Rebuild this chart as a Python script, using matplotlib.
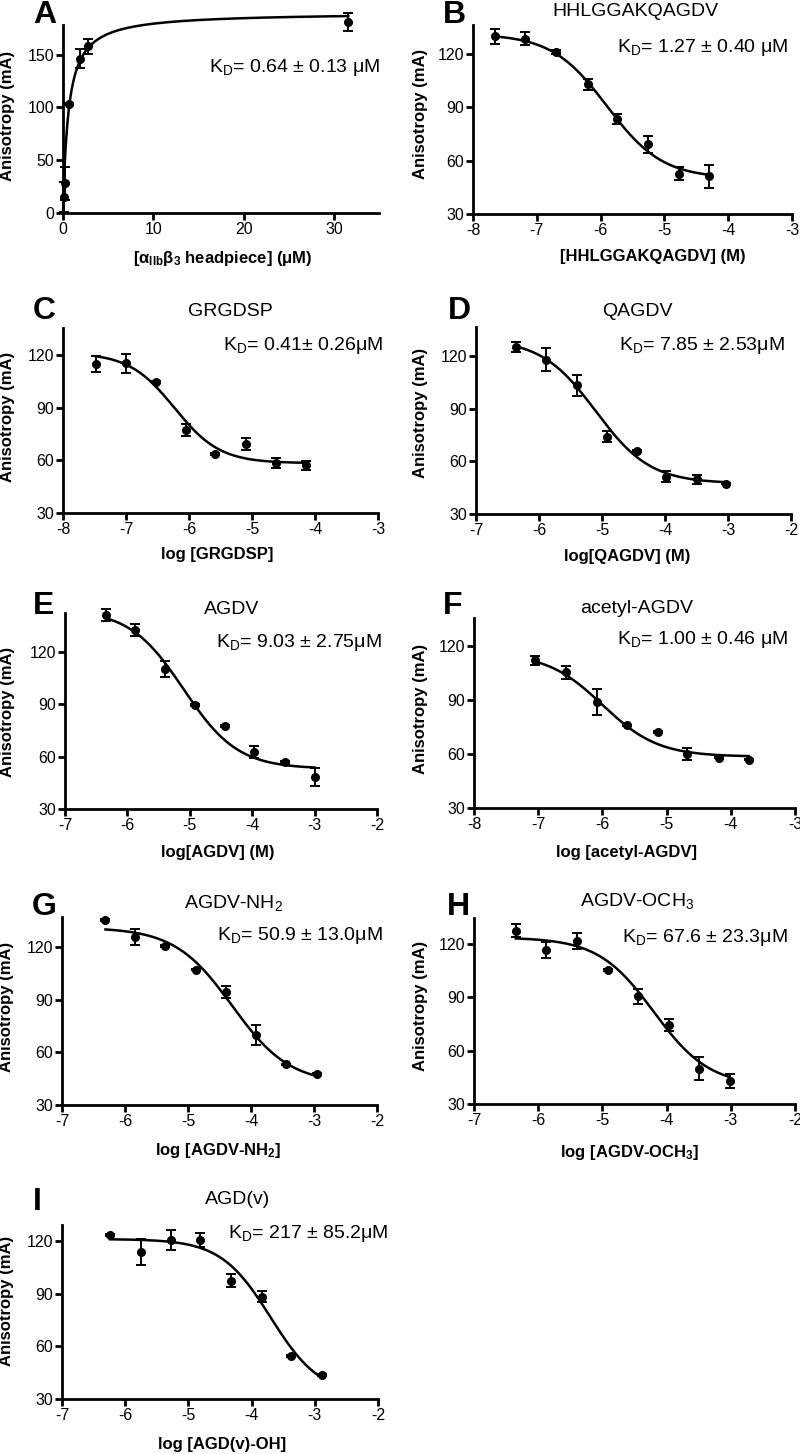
import numpy as np
import matplotlib
matplotlib.use("Agg")
import matplotlib.pyplot as plt

plt.rcParams['font.family'] = ['Liberation Sans', 'DejaVu Sans']
plt.rcParams['mathtext.fontset'] = 'custom'
plt.rcParams['mathtext.rm'] = 'Liberation Sans'
plt.rcParams['mathtext.default'] = 'regular'
plt.rcParams['axes.unicode_minus'] = False

W, H = 800, 1454

# ---- data (log concentration, anisotropy mA, SEM) ----
a_x = [0.07, 0.26, 0.7, 1.91, 2.76, 31.6]
a_y = [15, 28, 103, 146, 158, 181]
a_err = [14, 16, 1, 9, 7, 8.5]
a_fit = (190, 0.6)  # Bmax, Kd (uM)

b_x = [-7.65, -7.18, -6.70, -6.20, -5.74, -5.26, -4.77, -4.30]
b_y = [129.6, 128.4, 121.0, 102.8, 83.4, 69.0, 52.5, 51.2]
b_err = [4, 3.5, 1, 3, 2.7, 4.7, 3.7, 6.4]
b_fit = (131, 50, -5.9, 1.0)  # top, bottom, logIC50, hill

c_x = [-7.48, -7.00, -6.53, -6.04, -5.58, -5.10, -4.62, -4.15]
c_y = [115.2, 115.6, 104.7, 77.4, 63.8, 69.6, 58.7, 57.3]
c_err = [4.6, 5.5, 0.5, 3.5, 0.5, 3.5, 3, 2.5]
c_fit = (121.5, 58.5, -6.23, 1.2)

d_x = [-6.36, -5.89, -5.40, -4.92, -4.45, -3.99, -3.50, -3.03]
d_y = [125.3, 118.1, 103.4, 74.2, 66.2, 51.3, 49.8, 47.4]
d_err = [3, 6.5, 6, 3, 0.5, 3, 2.5, 0.5]
d_fit = (130, 47.5, -5.1, 1.0)

e_x = [-6.34, -5.88, -5.40, -4.91, -4.43, -3.97, -3.48, -3.00]
e_y = [140.9, 132.3, 110.2, 89.6, 77.5, 62.4, 57.0, 48.4]
e_err = [3.5, 3.5, 4.5, 0.5, 0.5, 3.5, 0.5, 5]
e_fit = (144, 53, -5.1, 1.0)

f_x = [-7.05, -6.57, -6.09, -5.62, -5.14, -4.68, -4.19, -3.72]
f_y = [112.0, 105.3, 88.8, 75.8, 72.1, 60.0, 58.0, 56.9]
f_err = [2.5, 3.5, 7, 0.5, 0.5, 3.5, 0.5, 0.5]
f_fit = (116, 58.5, -6.0, 1.0)

g_x = [-6.31, -5.84, -5.36, -4.87, -4.40, -3.92, -3.44, -2.96]
g_y = [135.2, 125.7, 120.6, 107.1, 94.4, 69.8, 53.1, 47.6]
g_err = [0.5, 4.5, 0.5, 0.5, 3.5, 5.5, 0.5, 0.5]
g_fit = (131, 42, -4.3, 0.95)

h_x = [-6.35, -5.88, -5.40, -4.92, -4.45, -3.97, -3.50, -3.02]
h_y = [127.3, 116.6, 121.3, 105.4, 90.4, 74.2, 49.8, 43.1]
h_err = [3.5, 4.5, 4.5, 0.5, 4, 3.5, 6.5, 4]
h_fit = (123.5, 40, -4.2, 1.0)

i_x = [-6.24, -5.75, -5.28, -4.81, -4.33, -3.84, -3.38, -2.89]
i_y = [123.2, 113.7, 120.4, 120.6, 97.4, 88.3, 54.5, 43.7]
i_err = [0.5, 7.5, 5.5, 4, 3.5, 3, 0.5, 0.5]
i_fit = (121, 32, -3.7, 1.1)

letters = ['A', 'B', 'C', 'D', 'E', 'F', 'G', 'H', 'I']
titles = ['', 'HHLGGAKQAGDV', 'GRGDSP', 'QAGDV', 'AGDV', 'acetyl-AGDV',
          'AGDV-NH$_2$', 'AGDV-OCH$_3$', 'AGD(v)']
kd_texts = ['K$_D$= 0.64 ± 0.13 μM', 'K$_D$= 1.27 ± 0.40 μM',
            'K$_D$= 0.41± 0.26μM', 'K$_D$= 7.85 ± 2.53μM',
            'K$_D$= 9.03 ± 2.75μM', 'K$_D$= 1.00 ± 0.46 μM',
            'K$_D$= 50.9 ± 13.0μM', 'K$_D$= 67.6 ± 23.3μM',
            'K$_D$= 217 ± 85.2μM']
xlabels = ['[α$_{IIb}$β$_3$ headpiece] (μM)', '[HHLGGAKQAGDV] (M)',
           'log [GRGDSP]', 'log[QAGDV] (M)', 'log[AGDV] (M)',
           'log [acetyl-AGDV]', 'log [AGDV-NH$_2$]', 'log [AGDV-OCH$_3$]',
           'log [AGD(v)-OH]']

xs = [a_x, b_x, c_x, d_x, e_x, f_x, g_x, h_x, i_x]
ys = [a_y, b_y, c_y, d_y, e_y, f_y, g_y, h_y, i_y]
errs = [a_err, b_err, c_err, d_err, e_err, f_err, g_err, h_err, i_err]
fits = [a_fit, b_fit, c_fit, d_fit, e_fit, f_fit, g_fit, h_fit, i_fit]

# ---- layout in pixels: left, right, x-axis y, y-axis top ----
boxes = [(63, 379, 213, 25), (473, 792, 214, 25),
         (63, 378, 513, 328), (476, 791, 514, 327),
         (65, 377, 809, 613), (474, 795, 808, 618),
         (62, 377, 1105, 917), (474, 795, 1104, 918),
         (62, 378, 1399, 1225)]
xlims = [(0, 35), (-8, -3), (-8, -3), (-7, -2), (-7, -2), (-8, -3),
         (-7, -2), (-7, -2), (-7, -2)]
ylims = [(0, 178), (30, 136), (30, 135.7), (30, 136.8), (30, 142),
         (30, 135.4), (30, 137), (30, 134.4), (30, 129)]
# letter (x, y), title centre, KD right edge/centre, xlabel centre, ylabel centre
letter_pos = [(33, 15), (443, 15), (33, 311), (448, 311), (33, 606),
              (443, 606), (32, 907), (447, 907), (33, 1202)]
title_pos = [(0, 0), (635, 11), (230, 311), (637, 311), (232, 610),
             (637, 609), (233, 903), (637, 901), (238, 1199)]
kd_pos = [(380, 68), (788, 47), (383, 345), (785, 345), (382, 643),
          (788, 640), (383, 935), (788, 937), (388, 1233)]
xlab_pos = [(223, 258), (653, 257), (217, 555), (627, 557), (218, 852),
            (627, 852), (218, 1150), (630, 1152), (222, 1445)]
ylab_pos = [(8, 116), (421, 114), (8, 417), (420, 413), (8, 712),
            (420, 709), (7, 1007), (420, 1006), (7, 1301)]


def sigmoid(x, top, bottom, x0, hill):
    return bottom + (top - bottom) / (1 + 10 ** ((x - x0) * hill))


fig = plt.figure(figsize=(W / 100, H / 100), dpi=100)

for k in range(9):
    left, right, base, top = boxes[k]
    ax = fig.add_axes([left / W, 1 - base / H, (right - left) / W, (base - top) / H])
    x = np.array(xs[k])
    y = np.array(ys[k])

    if k == 0:
        bmax, kd = fits[k]
        xc = np.linspace(0, x.max(), 400)
        yc = bmax * xc / (kd + xc)
    else:
        xc = np.linspace(x.min(), x.max(), 300)
        yc = sigmoid(xc, *fits[k])
    ax.plot(xc, yc, color='black', lw=1.8, clip_on=False, zorder=3)
    ax.errorbar(x, y, yerr=errs[k], fmt='o', color='black', ms=5.5,
                elinewidth=1.4, capsize=3.6, capthick=1.4, clip_on=False, zorder=4)

    ax.set_xlim(*xlims[k])
    ax.set_ylim(*ylims[k])
    if k == 0:
        ax.set_xticks([0, 10, 20, 30])
        ax.set_yticks([0, 50, 100, 150])
    else:
        ax.set_xticks(np.arange(xlims[k][0], xlims[k][1] + 1))
        ax.set_yticks([30, 60, 90, 120])

    for s in ['top', 'right']:
        ax.spines[s].set_visible(False)
    for s in ['left', 'bottom']:
        ax.spines[s].set_linewidth(2)
    ax.tick_params(direction='out', length=5, width=2, labelsize=11.5, pad=1.5)

    ax.set_xlabel(xlabels[k], fontsize=12, fontweight='bold', va='center')
    ax.xaxis.set_label_coords(xlab_pos[k][0] / W, 1 - xlab_pos[k][1] / H,
                              transform=fig.transFigure)
    ax.set_ylabel('Anisotropy (mA)', fontsize=12, fontweight='bold', va='center')
    ax.yaxis.set_label_coords(ylab_pos[k][0] / W, 1 - ylab_pos[k][1] / H,
                              transform=fig.transFigure)

    lx, ly = letter_pos[k]
    fig.text(lx / W, 1 - ly / H, letters[k], fontsize=23, fontweight='bold',
             ha='left', va='center')
    if titles[k]:
        tx, ty = title_pos[k]
        fig.text(tx / W, 1 - ty / H, titles[k], fontsize=14, ha='center', va='center')
    kx, ky = kd_pos[k]
    fig.text(kx / W, 1 - ky / H, kd_texts[k], fontsize=14, ha='right', va='center')

fig.savefig('out.png', dpi=100)
